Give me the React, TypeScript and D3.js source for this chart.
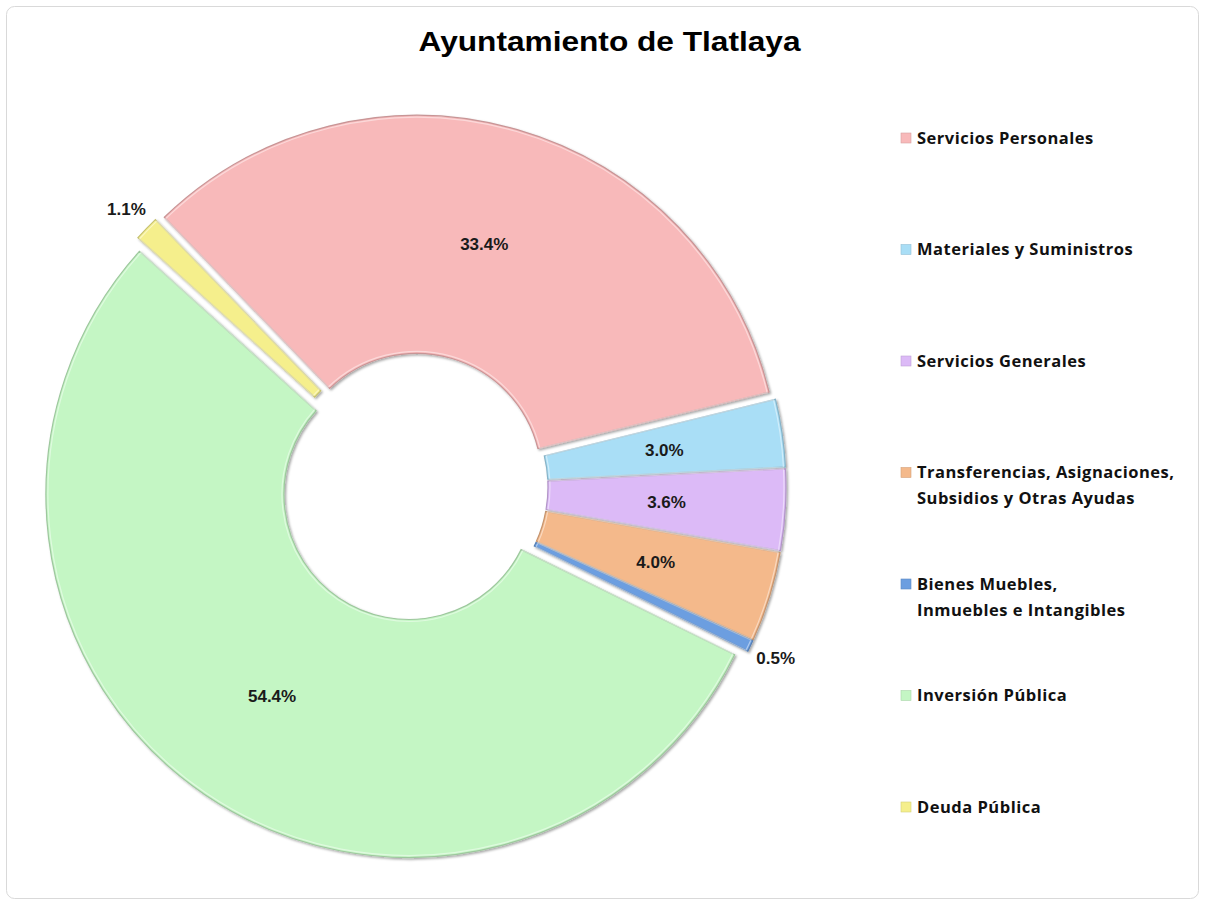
import React from 'react';
import * as d3 from 'd3';

// datos del gráfico
const categories = [
  'Servicios Personales',
  'Materiales y Suministros',
  'Servicios Generales',
  'Transferencias, Asignaciones, Subsidios y Otras Ayudas',
  'Bienes Muebles, Inmuebles e Intangibles',
  'Inversión Pública',
  'Deuda Pública'
];
const legendLines = [
  ['Servicios Personales'],
  ['Materiales y Suministros'],
  ['Servicios Generales'],
  ['Transferencias, Asignaciones,', 'Subsidios y Otras Ayudas'],
  ['Bienes Muebles,', 'Inmuebles e Intangibles'],
  ['Inversión Pública'],
  ['Deuda Pública']
];
const values = [33.4, 3.0, 3.6, 4.0, 0.5, 54.4, 1.1];
const colors = ['#f8b9ba', '#a9def6', '#dcbaf7', '#f4b98b', '#6c9ee0', '#c4f6c4', '#f5ef8c'];
const title = 'Ayuntamiento de Tlatlaya';

const width = 1205;
const height = 905;
const cx = 414;
const cy = 487;
const outerR = 363;
const innerR = 125;
const explode = 9;
const startAngle = (-44 * Math.PI) / 180;

export default function App () {
  const data = categories.map((name, i) => ({ name, value: values[i], i }));

  const pie = d3.pie<any>()
    .value(d => d.value)
    .sort(null)
    .startAngle(startAngle)
    .endAngle(startAngle + 2 * Math.PI);
  const arcs = pie(data);

  const arc = d3.arc<any>().innerRadius(innerR).outerRadius(outerR);
  const highlight = d3.arc<any>().innerRadius(innerR + 2).outerRadius(outerR - 2);
  const labelArc = d3.arc<any>().innerRadius(innerR + explode).outerRadius(outerR + explode);
  const outsideArc = d3.arc<any>().innerRadius(400).outerRadius(400);

  const legendY = d3.scalePoint<string>().domain(categories).range([138, 807]);

  return (
    <svg width={width} height={height} style={{ position: 'absolute', left: 0, top: 0, display: 'block' }}>
      <defs>
        <filter id='shadow' x='-10%' y='-10%' width='120%' height='120%'>
          <feDropShadow dx='1.5' dy='1.5' stdDeviation='1.2' floodColor='#000' floodOpacity='0.35' />
        </filter>
      </defs>
      <rect x={0} y={0} width={width} height={height} fill='#fff' />
      <rect x={6.5} y={6.5} width={1192} height={892} rx={8} fill='#fff' stroke='#d9d9d9' strokeWidth={1} />

      <text x={609.5} y={51} textAnchor='middle' fontFamily='Liberation Sans, Arial, sans-serif'
        fontWeight='bold' fontSize={27} textLength={382} lengthAdjust='spacingAndGlyphs' fill='#000'>
        {title}
      </text>

      <g transform={`translate(${cx},${cy})`}>
        {arcs.map(a => {
          const mid = (a.startAngle + a.endAngle) / 2;
          const dx = Math.sin(mid) * explode;
          const dy = -Math.cos(mid) * explode;
          const c = colors[a.data.i];
          return (
            <g key={a.data.name} transform={`translate(${dx},${dy})`}>
              <path d={arc(a) as string} fill={c} stroke={d3.color(c)!.darker(0.6).toString()}
                strokeWidth={1.2} filter='url(#shadow)' />
              <path d={highlight(a) as string}
                fill='none' stroke='#fff' strokeOpacity={0.45} strokeWidth={1.2} />
            </g>
          );
        })}
        {arcs.map(a => {
          const small = a.data.value < 2;
          const [x, y] = small ? outsideArc.centroid(a) : labelArc.centroid(a);
          return (
            <text key={'l' + a.data.name} x={x} y={y} dy='0.35em' textAnchor='middle'
              fontFamily='Liberation Sans, Arial, sans-serif' fontWeight='bold' fontSize={17} fill='#1a1a1a'>
              {a.data.value.toFixed(1) + '%'}
            </text>
          );
        })}
      </g>

      <g>
        {categories.map((name, i) => {
          const y = legendY(name)!;
          return (
            <g key={'lg' + name}>
              <rect x={901} y={y - 5} width={10} height={10} fill={colors[i]}
                stroke={d3.color(colors[i])!.darker(0.4).toString()} strokeWidth={0.6} />
              <text x={917} y={y} fontFamily='Open Sans, sans-serif' fontWeight='bold'
                fontSize={16.5} letterSpacing={0.5} fill='#111'>
                {legendLines[i].map((line, j) => (
                  <tspan key={j} x={917} dy={j === 0 ? '0.35em' : 26}>{line}</tspan>
                ))}
              </text>
            </g>
          );
        })}
      </g>
    </svg>
  );
}
